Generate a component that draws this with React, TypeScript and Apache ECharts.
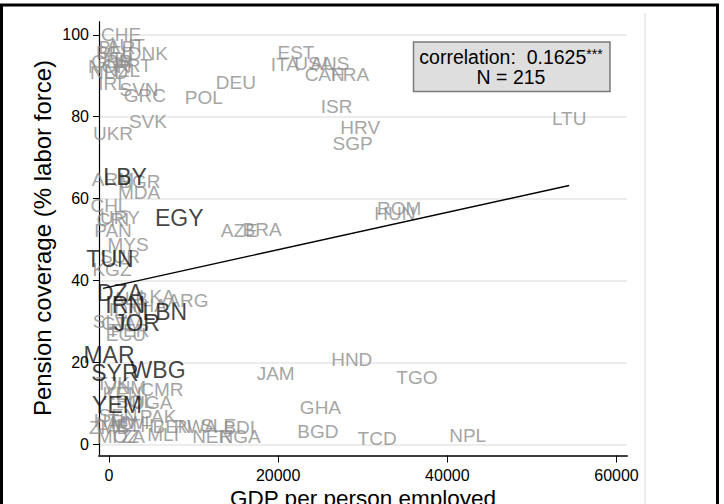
import React, { useEffect, useRef } from "react";
import * as echarts from "echarts";

// Country labels (ISO codes) with GDP per person employed and pension coverage
const countryCodes = [
  "CHE", "BLR", "AUT", "DNK", "BEL", "GBR", "FIN", "NOR", "NLD", "PRT", "NZL",
  "IRL", "SVN", "GRC", "DEU", "POL", "SVK", "UKR", "EST", "ITA", "USA", "AUS",
  "CAN", "FRA", "ISR", "HRV", "SGP", "LTU", "ARM", "BGR", "MDA", "CHL", "URY",
  "CRI", "PAN", "MYS", "AZE", "BRA", "ROM", "HUN", "SUR", "KGZ", "LKA", "ARG",
  "ALB", "THA", "IDN", "SLV", "GTM", "PER", "ECU", "HND", "JAM", "TGO", "GHA",
  "BGD", "TCD", "NPL", "TJK", "VNM", "KEN", "CMR", "BOL", "UGA", "PAK", "SEN",
  "HTI", "LAO", "MWI", "ZMB", "ETH", "BEN", "RWA", "SLE", "BDI", "NER", "NGA",
  "MLI", "MOZ", "TZA",
];
const gdpPerWorker = [
  1420, 950, 2000, 4600, 600, 350, 1060, 0, 0, 2840, 1540,
  470, 3550, 4250, 15000, 11200, 4600, 470, 22100, 20800, 24200, 26100,
  25500, 28500, 26900, 29700, 28800, 54400, 470, 3660, 3550, 50, 1300,
  470, 470, 2250, 15400, 18100, 34300, 33800, 1300, 350, 5670, 9340,
  2480, 4600, 1900, 120, 1540, 2480, 2000, 28700, 19700, 36400, 25000,
  24700, 31700, 42400, 470, 1900, 1540, 6260, 3070, 5080, 5800, 1060,
  0, 700, 2480, 0, 3070, 7450, 10200, 12900, 15400, 12200, 15500,
  6400, 1060, 2130,
];
const pensionCoverage = [
  100.0, 96.9, 97.3, 95.4, 95.6, 93.5, 94.0, 92.2, 90.9, 92.4, 91.4,
  88.0, 86.6, 85.1, 88.3, 84.8, 78.8, 76.0, 95.6, 92.7, 92.9, 93.1,
  90.2, 90.2, 82.4, 77.3, 73.4, 79.6, 64.6, 64.1, 61.4, 58.2, 55.3,
  54.8, 52.1, 48.9, 52.3, 52.5, 57.7, 56.4, 45.8, 42.6, 36.0, 35.0,
  35.7, 33.8, 32.8, 29.9, 29.6, 27.9, 26.9, 20.6, 17.4, 16.2, 9.1,
  3.0, 1.3, 2.1, 14.8, 13.8, 12.5, 13.5, 10.5, 10.3, 6.7, 7.0,
  5.8, 5.0, 5.4, 4.1, 4.5, 4.3, 4.3, 4.7, 4.0, 1.8, 1.8,
  2.5, 1.8, 1.8,
];

// Middle East and North Africa, set in larger black type
const menaCodes = ["LBY", "EGY", "TUN", "DZA", "IRN", "LBN", "JOR", "MAR", "SYR", "WBG", "YEM"];
const menaGdp = [1900, 8300, 120, 1300, 1900, 6600, 3300, 0, 700, 5800, 950];
const menaCoverage = [65.3, 55.3, 45.3, 37.0, 34.0, 32.3, 29.6, 21.8, 17.4, 18.2, 9.6];

// Linear fit over the observed range
const fitGdp = [-700, 54400];
const fitCoverage = [38.1, 63.2];

const gdpTicks = [0, 20000, 40000, 60000];
const coverageTicks = [0, 20, 40, 60, 80, 100];

const correlationText = "correlation:  0.1625";
const significanceStars = "***";
const sampleText = "N = 215";
const xTitle = "GDP per person employed";
const yTitle = "Pension coverage (% labor force)";

const FONT = "'Liberation Sans', Arial, Helvetica, sans-serif";

export default function App() {
  const ref = useRef<HTMLDivElement>(null);

  useEffect(() => {
    if (!ref.current) return;
    const chart = echarts.init(ref.current, undefined, { renderer: "svg" });

    const grayData = countryCodes.map((c, i) => ({
      name: c,
      value: [gdpPerWorker[i], pensionCoverage[i]],
    }));
    const menaData = menaCodes.map((c, i) => ({
      name: c,
      value: [menaGdp[i], menaCoverage[i]],
    }));
    const fitData = fitGdp.map((g, i) => [g, fitCoverage[i]]);

    chart.setOption({
      animation: false,
      backgroundColor: "#ffffff",
      textStyle: { fontFamily: FONT },
      grid: {
        left: 99,
        right: 97,
        top: 21.7,
        bottom: 48.5,
        containLabel: false,
        outerBoundsMode: "none",
      },
      xAxis: {
        type: "value",
        min: -1182,
        max: 61240,
        axisLine: { show: true, onZero: false, lineStyle: { color: "#3c3c3c", width: 2 } },
        axisTick: {
          show: true,
          customValues: gdpTicks,
          length: 7,
          lineStyle: { color: "#000", width: 1 },
        },
        axisLabel: {
          customValues: gdpTicks,
          formatter: (v: number) => String(v),
          color: "#000",
          fontSize: 16,
          fontFamily: FONT,
          margin: 12,
        },
        splitLine: { show: false },
      },
      yAxis: {
        type: "value",
        min: -2.74,
        max: 103.2,
        axisLine: { show: true, onZero: false, lineStyle: { color: "#000", width: 1.2 } },
        axisTick: {
          show: true,
          customValues: coverageTicks,
          length: 6,
          lineStyle: { color: "#000", width: 1 },
        },
        axisLabel: {
          customValues: coverageTicks,
          formatter: (v: number) => String(v),
          color: "#000",
          fontSize: 16,
          fontFamily: FONT,
          margin: 10,
        },
        splitLine: { show: true, lineStyle: { color: "#e6e6e6", width: 1.5 } },
      },
      series: [
        {
          type: "scatter",
          data: grayData,
          symbolSize: 0,
          silent: true,
          z: 2,
          itemStyle: { color: "transparent" },
          label: {
            show: true,
            position: "inside",
            formatter: (p: any) => p.name,
            color: "#8c8c8c",
            fontSize: 19,
            fontFamily: FONT,
          },
        },
        {
          type: "line",
          data: fitData,
          symbol: "none",
          silent: true,
          z: 3,
          lineStyle: { color: "#000", width: 1.3 },
        },
        {
          type: "scatter",
          data: menaData,
          symbolSize: 0,
          silent: true,
          z: 4,
          itemStyle: { color: "transparent" },
          label: {
            show: true,
            position: "inside",
            formatter: (p: any) => p.name,
            color: "#111",
            fontSize: 23,
            fontFamily: FONT,
          },
        },
      ],
      graphic: [
        {
          type: "rect",
          silent: true,
          shape: { x: 1.5, y: 5, width: 716, height: 540 },
          style: { fill: "none", stroke: "#000", lineWidth: 3 },
          z: 10,
        },
        {
          type: "line",
          silent: true,
          shape: { x1: 645, y1: 13, x2: 645, y2: 504 },
          style: { stroke: "#e6e6e6", lineWidth: 1.5 },
        },
        {
          type: "rect",
          silent: true,
          shape: { x: 413.5, y: 42, width: 196.5, height: 49.5 },
          style: { fill: "#dedede", stroke: "#7a7a7a", lineWidth: 1.5 },
          z: 5,
        },
        {
          type: "text",
          silent: true,
          x: 511,
          y: 57,
          z: 6,
          style: {
            text: `{a|${correlationText}}{s|${significanceStars}}`,
            align: "center",
            verticalAlign: "middle",
            fill: "#000",
            rich: {
              a: { fontSize: 19.5, fontFamily: FONT, fill: "#000", color: "#000" },
              s: { fontSize: 14, fontFamily: FONT, fill: "#000", color: "#000", verticalAlign: "top" },
            },
          },
        },
        {
          type: "text",
          silent: true,
          x: 511,
          y: 77,
          z: 6,
          style: {
            text: sampleText,
            align: "center",
            verticalAlign: "middle",
            fill: "#000",
            fontSize: 19.5,
            fontFamily: FONT,
          },
        },
        {
          type: "text",
          silent: true,
          x: 363,
          y: 498,
          style: {
            text: xTitle,
            align: "center",
            verticalAlign: "middle",
            fill: "#000",
            fontSize: 22.5,
            fontFamily: FONT,
          },
        },
        {
          type: "text",
          silent: true,
          x: 42,
          y: 238,
          rotation: Math.PI / 2,
          style: {
            text: yTitle,
            align: "center",
            verticalAlign: "middle",
            fill: "#000",
            fontSize: 24,
            fontFamily: FONT,
          },
        },
      ],
    });

    return () => chart.dispose();
  }, []);

  return (
    <div
      ref={ref}
      style={{ position: "fixed", left: 0, top: 0, width: 724, height: 504, background: "#fff" }}
    />
  );
}
